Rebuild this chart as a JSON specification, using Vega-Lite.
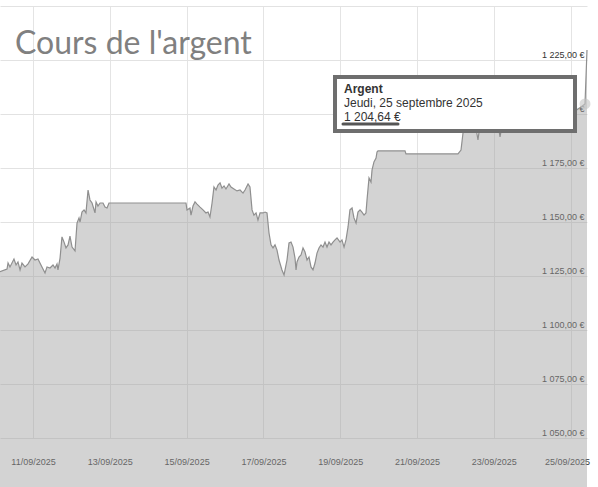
{
  "$schema": "https://vega.github.io/schema/vega-lite/v6.json",
  "width": 587,
  "height": 432,
  "autosize": {"type": "none"},
  "padding": {"left": 0, "top": 6, "right": 11, "bottom": 49},
  "background": "white",
  "config": {
    "view": {"stroke": null},
    "locale": {
      "number": {"decimal": ",", "thousands": " ", "grouping": [3], "currency": ["", " €"]}
    }
  },
  "data": {
    "values": [
      {"t": "2025-09-10T03:22", "v": 1127.0},
      {"t": "2025-09-10T07:45", "v": 1128.2},
      {"t": "2025-09-10T08:24", "v": 1131.0},
      {"t": "2025-09-10T09:36", "v": 1129.2},
      {"t": "2025-09-10T12:06", "v": 1132.9},
      {"t": "2025-09-10T13:24", "v": 1130.1},
      {"t": "2025-09-10T14:36", "v": 1131.5},
      {"t": "2025-09-10T15:54", "v": 1127.8},
      {"t": "2025-09-10T17:06", "v": 1131.0},
      {"t": "2025-09-10T19:00", "v": 1129.2},
      {"t": "2025-09-10T20:54", "v": 1130.6},
      {"t": "2025-09-10T23:24", "v": 1133.8},
      {"t": "2025-09-11T01:15", "v": 1132.4},
      {"t": "2025-09-11T03:06", "v": 1132.9},
      {"t": "2025-09-11T05:36", "v": 1129.2},
      {"t": "2025-09-11T07:30", "v": 1126.4},
      {"t": "2025-09-11T08:45", "v": 1129.2},
      {"t": "2025-09-11T10:36", "v": 1128.7},
      {"t": "2025-09-11T12:30", "v": 1130.1},
      {"t": "2025-09-11T13:45", "v": 1128.7},
      {"t": "2025-09-11T15:00", "v": 1130.6},
      {"t": "2025-09-11T15:36", "v": 1127.8},
      {"t": "2025-09-11T16:54", "v": 1133.3},
      {"t": "2025-09-11T18:06", "v": 1143.1},
      {"t": "2025-09-11T19:24", "v": 1140.7},
      {"t": "2025-09-11T20:36", "v": 1138.0},
      {"t": "2025-09-11T21:54", "v": 1139.4},
      {"t": "2025-09-11T23:06", "v": 1143.5},
      {"t": "2025-09-12T00:24", "v": 1138.4},
      {"t": "2025-09-12T02:15", "v": 1136.6},
      {"t": "2025-09-12T03:30", "v": 1149.5},
      {"t": "2025-09-12T04:45", "v": 1151.9},
      {"t": "2025-09-12T05:24", "v": 1150.0},
      {"t": "2025-09-12T06:36", "v": 1154.6},
      {"t": "2025-09-12T07:54", "v": 1155.6},
      {"t": "2025-09-12T09:06", "v": 1154.2},
      {"t": "2025-09-12T10:24", "v": 1164.8},
      {"t": "2025-09-12T11:36", "v": 1160.2},
      {"t": "2025-09-12T12:54", "v": 1158.8},
      {"t": "2025-09-12T14:45", "v": 1154.2},
      {"t": "2025-09-12T15:24", "v": 1159.3},
      {"t": "2025-09-12T16:36", "v": 1157.4},
      {"t": "2025-09-12T17:54", "v": 1158.8},
      {"t": "2025-09-12T19:45", "v": 1158.8},
      {"t": "2025-09-12T21:00", "v": 1156.9},
      {"t": "2025-09-12T22:15", "v": 1156.5},
      {"t": "2025-09-12T23:30", "v": 1158.8},
      {"t": "2025-09-14T23:36", "v": 1158.8},
      {"t": "2025-09-15T00:15", "v": 1155.6},
      {"t": "2025-09-15T02:06", "v": 1156.5},
      {"t": "2025-09-15T02:45", "v": 1153.2},
      {"t": "2025-09-15T04:00", "v": 1157.4},
      {"t": "2025-09-15T05:15", "v": 1159.3},
      {"t": "2025-09-15T06:30", "v": 1158.3},
      {"t": "2025-09-15T08:24", "v": 1156.9},
      {"t": "2025-09-15T10:15", "v": 1155.6},
      {"t": "2025-09-15T12:06", "v": 1154.2},
      {"t": "2025-09-15T13:24", "v": 1154.6},
      {"t": "2025-09-15T14:36", "v": 1152.3},
      {"t": "2025-09-15T15:54", "v": 1158.8},
      {"t": "2025-09-15T17:06", "v": 1166.2},
      {"t": "2025-09-15T18:24", "v": 1164.8},
      {"t": "2025-09-15T19:36", "v": 1167.1},
      {"t": "2025-09-15T20:54", "v": 1168.1},
      {"t": "2025-09-15T22:06", "v": 1165.7},
      {"t": "2025-09-15T23:24", "v": 1166.7},
      {"t": "2025-09-16T00:36", "v": 1165.3},
      {"t": "2025-09-16T02:30", "v": 1167.6},
      {"t": "2025-09-16T03:45", "v": 1166.2},
      {"t": "2025-09-16T05:36", "v": 1165.3},
      {"t": "2025-09-16T07:30", "v": 1164.4},
      {"t": "2025-09-16T09:24", "v": 1164.8},
      {"t": "2025-09-16T11:15", "v": 1163.4},
      {"t": "2025-09-16T12:30", "v": 1164.8},
      {"t": "2025-09-16T14:24", "v": 1167.6},
      {"t": "2025-09-16T15:36", "v": 1166.2},
      {"t": "2025-09-16T16:54", "v": 1155.6},
      {"t": "2025-09-16T18:06", "v": 1153.2},
      {"t": "2025-09-16T19:24", "v": 1154.2},
      {"t": "2025-09-16T20:36", "v": 1150.9},
      {"t": "2025-09-16T21:54", "v": 1154.2},
      {"t": "2025-09-16T23:45", "v": 1154.2},
      {"t": "2025-09-17T01:00", "v": 1154.6},
      {"t": "2025-09-17T02:15", "v": 1154.2},
      {"t": "2025-09-17T03:30", "v": 1144.9},
      {"t": "2025-09-17T04:45", "v": 1139.4},
      {"t": "2025-09-17T06:00", "v": 1138.0},
      {"t": "2025-09-17T07:15", "v": 1139.4},
      {"t": "2025-09-17T08:30", "v": 1137.0},
      {"t": "2025-09-17T09:45", "v": 1132.4},
      {"t": "2025-09-17T11:36", "v": 1127.8},
      {"t": "2025-09-17T12:54", "v": 1125.5},
      {"t": "2025-09-17T14:45", "v": 1132.4},
      {"t": "2025-09-17T16:00", "v": 1140.3},
      {"t": "2025-09-17T17:15", "v": 1140.7},
      {"t": "2025-09-17T18:30", "v": 1138.4},
      {"t": "2025-09-17T19:45", "v": 1133.3},
      {"t": "2025-09-17T20:24", "v": 1127.8},
      {"t": "2025-09-17T21:00", "v": 1131.5},
      {"t": "2025-09-17T22:15", "v": 1133.8},
      {"t": "2025-09-17T23:30", "v": 1134.7},
      {"t": "2025-09-18T00:45", "v": 1138.0},
      {"t": "2025-09-18T02:00", "v": 1136.1},
      {"t": "2025-09-18T03:15", "v": 1132.4},
      {"t": "2025-09-18T04:30", "v": 1133.8},
      {"t": "2025-09-18T05:45", "v": 1129.2},
      {"t": "2025-09-18T07:00", "v": 1127.8},
      {"t": "2025-09-18T08:15", "v": 1131.0},
      {"t": "2025-09-18T09:30", "v": 1135.6},
      {"t": "2025-09-18T10:45", "v": 1138.0},
      {"t": "2025-09-18T12:00", "v": 1139.4},
      {"t": "2025-09-18T13:15", "v": 1138.4},
      {"t": "2025-09-18T14:30", "v": 1140.7},
      {"t": "2025-09-18T15:45", "v": 1138.4},
      {"t": "2025-09-18T17:00", "v": 1140.7},
      {"t": "2025-09-18T18:15", "v": 1139.4},
      {"t": "2025-09-18T19:30", "v": 1140.7},
      {"t": "2025-09-18T20:45", "v": 1141.7},
      {"t": "2025-09-18T22:00", "v": 1142.6},
      {"t": "2025-09-18T23:54", "v": 1140.7},
      {"t": "2025-09-19T01:06", "v": 1141.7},
      {"t": "2025-09-19T02:24", "v": 1138.4},
      {"t": "2025-09-19T03:36", "v": 1141.7},
      {"t": "2025-09-19T04:54", "v": 1147.7},
      {"t": "2025-09-19T06:06", "v": 1155.6},
      {"t": "2025-09-19T07:24", "v": 1156.5},
      {"t": "2025-09-19T08:36", "v": 1151.9},
      {"t": "2025-09-19T09:54", "v": 1149.5},
      {"t": "2025-09-19T11:06", "v": 1154.6},
      {"t": "2025-09-19T12:24", "v": 1155.6},
      {"t": "2025-09-19T13:36", "v": 1154.6},
      {"t": "2025-09-19T14:54", "v": 1153.2},
      {"t": "2025-09-19T16:06", "v": 1154.2},
      {"t": "2025-09-19T16:45", "v": 1160.2},
      {"t": "2025-09-19T18:00", "v": 1170.4},
      {"t": "2025-09-19T19:15", "v": 1168.5},
      {"t": "2025-09-19T19:54", "v": 1174.1},
      {"t": "2025-09-19T21:06", "v": 1177.8},
      {"t": "2025-09-19T22:24", "v": 1179.6},
      {"t": "2025-09-19T23:00", "v": 1182.4},
      {"t": "2025-09-19T23:36", "v": 1182.9},
      {"t": "2025-09-20T16:30", "v": 1182.9},
      {"t": "2025-09-20T17:06", "v": 1181.5},
      {"t": "2025-09-22T01:36", "v": 1181.5},
      {"t": "2025-09-22T03:30", "v": 1183.3},
      {"t": "2025-09-22T04:45", "v": 1191.2},
      {"t": "2025-09-22T06:00", "v": 1195.0},
      {"t": "2025-09-22T08:00", "v": 1198.5},
      {"t": "2025-09-22T10:00", "v": 1196.5},
      {"t": "2025-09-22T12:00", "v": 1197.5},
      {"t": "2025-09-22T14:06", "v": 1188.0},
      {"t": "2025-09-22T15:30", "v": 1195.5},
      {"t": "2025-09-22T18:00", "v": 1199.0},
      {"t": "2025-09-22T21:00", "v": 1197.0},
      {"t": "2025-09-23T00:00", "v": 1198.5},
      {"t": "2025-09-23T02:30", "v": 1196.0},
      {"t": "2025-09-23T03:54", "v": 1189.4},
      {"t": "2025-09-23T05:30", "v": 1196.5},
      {"t": "2025-09-23T09:00", "v": 1199.5},
      {"t": "2025-09-23T13:00", "v": 1198.0},
      {"t": "2025-09-23T17:00", "v": 1201.0},
      {"t": "2025-09-23T22:00", "v": 1199.5},
      {"t": "2025-09-24T03:00", "v": 1202.0},
      {"t": "2025-09-24T08:00", "v": 1200.0},
      {"t": "2025-09-24T13:00", "v": 1203.0},
      {"t": "2025-09-24T18:00", "v": 1201.0},
      {"t": "2025-09-24T23:00", "v": 1203.5},
      {"t": "2025-09-25T03:00", "v": 1201.5},
      {"t": "2025-09-25T06:00", "v": 1203.0},
      {"t": "2025-09-25T09:00", "v": 1204.64},
      {"t": "2025-09-25T10:15", "v": 1229.6}
    ]
  },
  "layer": [
    {
      "mark": {"type": "area", "fill": "#a0a0a0", "fillOpacity": 0.46},
      "encoding": {
        "x": {
          "field": "t",
          "type": "temporal",
          "title": null,
          "scale": {
            "domain": [
              {"year": 2025, "month": 9, "date": 10, "hours": 3, "minutes": 22},
              {"year": 2025, "month": 9, "date": 25, "hours": 10, "minutes": 15}
            ],
            "nice": false
          },
          "axis": {
            "values": [
              {"year": 2025, "month": 9, "date": 11},
              {"year": 2025, "month": 9, "date": 13},
              {"year": 2025, "month": 9, "date": 15},
              {"year": 2025, "month": 9, "date": 17},
              {"year": 2025, "month": 9, "date": 19},
              {"year": 2025, "month": 9, "date": 21},
              {"year": 2025, "month": 9, "date": 23},
              {"year": 2025, "month": 9, "date": 25}
            ],
            "format": "%d/%m/%Y",
            "grid": true,
            "gridColor": "#e4e4e4",
            "ticks": false,
            "domain": false,
            "labelFont": "Liberation Sans",
            "labelFontSize": 9,
            "labelColor": "#333333",
            "labelPadding": 19,
            "labelFlush": 20,
            "labelFlushOffset": 19
          }
        },
        "y": {
          "field": "v",
          "type": "quantitative",
          "title": null,
          "scale": {"domain": [1050, 1250], "nice": false, "zero": false},
          "axis": {
            "orient": "right",
            "values": [1050, 1056.25, 1062.5, 1068.75, 1075, 1081.25, 1087.5, 1093.75, 1100, 1106.25, 1112.5, 1118.75, 1125, 1131.25, 1137.5, 1143.75, 1150, 1156.25, 1162.5, 1168.75, 1175, 1181.25, 1187.5, 1193.75, 1200, 1206.25, 1212.5, 1218.75, 1225, 1231.25, 1237.5, 1243.75, 1250],
            "format": "$,.2f",
            "labelExpr": "datum.value % 25 === 0 && datum.value < 1250 ? datum.label : ''",
            "grid": true,
            "gridColor": {"condition": {"test": "datum.value % 25 === 0", "value": "#e2e2e2"}, "value": "#f1f1f1"},
            "ticks": false,
            "domain": false,
            "labelAlign": "right",
            "labelBaseline": "bottom",
            "labelPadding": -3,
            "labelOffset": -1,
            "labelFont": "Liberation Sans",
            "labelFontSize": 9,
            "labelColor": "#333333"
          }
        }
      }
    },
    {
      "mark": {"type": "line", "color": "#8f8f8f", "strokeWidth": 1.2},
      "encoding": {
        "x": {"field": "t", "type": "temporal", "title": null},
        "y": {"field": "v", "type": "quantitative", "title": null}
      }
    },
    {
      "data": {"values": [{}]},
      "mark": {"type": "point", "filled": true, "size": 120, "color": "#c4c4c4", "opacity": 0.6},
      "encoding": {
        "x": {"datum": {"year": 2025, "month": 9, "date": 25, "hours": 9}, "type": "temporal", "title": null},
        "y": {"datum": 1204.64, "type": "quantitative", "title": null}
      }
    },
    {
      "data": {"values": [{}]},
      "mark": {"type": "rect", "fill": "#000000", "opacity": 0.12, "xOffset": 2, "yOffset": 3},
      "encoding": {
        "x": {"datum": {"year": 2025, "month": 9, "date": 18, "hours": 20, "minutes": 45}, "type": "temporal", "title": null},
        "x2": {"datum": {"year": 2025, "month": 9, "date": 25, "hours": 2, "minutes": 45}},
        "y": {"datum": 1217.13, "type": "quantitative", "title": null},
        "y2": {"datum": 1192.13}
      }
    },
    {
      "data": {"values": [{}]},
      "mark": {"type": "rect", "fill": "white", "stroke": "#6e6e6e", "strokeWidth": 4},
      "encoding": {
        "x": {"datum": {"year": 2025, "month": 9, "date": 18, "hours": 20, "minutes": 45}, "type": "temporal", "title": null},
        "x2": {"datum": {"year": 2025, "month": 9, "date": 25, "hours": 2, "minutes": 45}},
        "y": {"datum": 1217.13, "type": "quantitative", "title": null},
        "y2": {"datum": 1192.13}
      }
    },
    {
      "data": {"values": [{}]},
      "mark": {"type": "text", "text": "Argent", "font": "Liberation Sans", "fontSize": 12, "fontWeight": "bold", "color": "#333333", "align": "left", "baseline": "middle"},
      "encoding": {
        "x": {"datum": {"year": 2025, "month": 9, "date": 19, "hours": 2, "minutes": 22}, "type": "temporal", "title": null},
        "y": {"datum": 1211.43, "type": "quantitative", "title": null}
      }
    },
    {
      "data": {"values": [{}]},
      "mark": {"type": "text", "text": "Jeudi, 25 septembre 2025", "font": "Liberation Sans", "fontSize": 12, "color": "#333333", "align": "left", "baseline": "middle"},
      "encoding": {
        "x": {"datum": {"year": 2025, "month": 9, "date": 19, "hours": 2, "minutes": 22}, "type": "temporal", "title": null},
        "y": {"datum": 1204.95, "type": "quantitative", "title": null}
      }
    },
    {
      "data": {"values": [{}]},
      "mark": {"type": "text", "text": "1 204,64 €", "font": "Liberation Sans", "fontSize": 12, "color": "#333333", "align": "left", "baseline": "middle"},
      "encoding": {
        "x": {"datum": {"year": 2025, "month": 9, "date": 19, "hours": 2, "minutes": 22}, "type": "temporal", "title": null},
        "y": {"datum": 1198.47, "type": "quantitative", "title": null}
      }
    },
    {
      "data": {"values": [{}]},
      "mark": {"type": "rule", "color": "#555555", "strokeWidth": 3, "strokeCap": "round"},
      "encoding": {
        "x": {"datum": {"year": 2025, "month": 9, "date": 19, "hours": 1, "minutes": 45}, "type": "temporal", "title": null},
        "x2": {"datum": {"year": 2025, "month": 9, "date": 20, "hours": 12, "minutes": 7}},
        "y": {"datum": 1195.37, "type": "quantitative", "title": null}
      }
    },
    {
      "data": {"values": [{}]},
      "mark": {"type": "text", "text": "Cours de l'argent", "font": "Lato", "fontSize": 32, "color": "#808080", "align": "left", "baseline": "alphabetic"},
      "encoding": {
        "x": {"datum": {"year": 2025, "month": 9, "date": 10, "hours": 12, "minutes": 45}, "type": "temporal", "title": null},
        "y": {"datum": 1227.78, "type": "quantitative", "title": null}
      }
    }
  ]
}
